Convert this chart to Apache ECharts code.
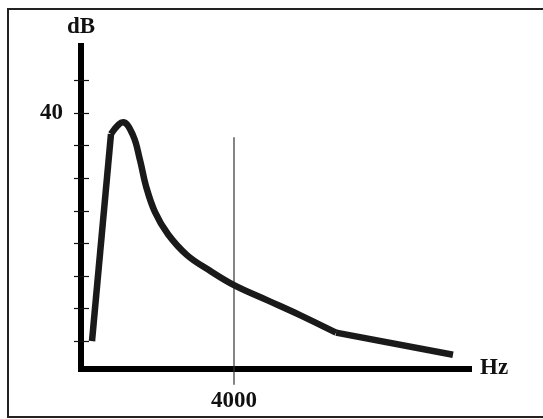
<!DOCTYPE html>
<html>
<head>
<meta charset="utf-8">
<script src="https://cdn.jsdelivr.net/npm/echarts@6/dist/echarts.min.js"></script>
<style>
  html, body { margin: 0; padding: 0; background: #fff; }
  #chart { width: 543px; height: 419px; }
</style>
</head>
<body>
<div id="chart"></div>
<script>
// Frequency response curve: level (dB) against frequency (Hz)
const freqHz = [288, 784, 1098, 1359, 1542, 1699, 1935, 2275, 2771, 3373, 4000, 4863, 5725, 6667, 9725];
const levelDb = [5.0, 36.8, 38.6, 36.6, 32.8, 28.8, 24.8, 21.4, 18.2, 15.8, 13.6, 11.3, 9.0, 6.3, 2.9];

// Straight rise, smooth decay, straight tail
const riseIdx = [0, 1];
const decayIdx = [1, 2, 3, 4, 5, 6, 7, 8, 9, 10, 11, 12, 13];
const tailIdx = [13, 14];

// Marker line at 4000 Hz
const markerHz = 4000;
const markerDb = [36.3, -1.7];

// Axis ticks and labels
const yTickValues = [5, 10, 15, 20, 25, 30, 35, 40, 45];
const yLabelValues = [40];
const xLabelValues = [4000];
const yRange = [0.8, 50.3];
const xRange = [0, 10144];

const pts = idx => idx.map(i => [freqHz[i], levelDb[i]]);

const labelFont = {
  fontFamily: '"Liberation Serif", "DejaVu Serif", serif',
  fontWeight: 'bold',
  fontSize: 23,
  color: '#111'
};

const chart = echarts.init(document.getElementById('chart'), null, { renderer: 'canvas' });

const curveStyle = { color: '#1a1a1a', width: 6.5, join: 'round' };

chart.setOption({
  animation: false,
  backgroundColor: '#fff',
  graphic: [{
    type: 'rect',
    shape: { x: 8, y: 9, width: 600, height: 408 },
    style: { fill: 'none', stroke: '#222', lineWidth: 2 },
    z: -1
  }],
  grid: { left: 81, right: 74, top: 46, bottom: 50.5 },
  xAxis: {
    type: 'value',
    min: xRange[0],
    max: xRange[1],
    name: 'Hz',
    nameLocation: 'end',
    nameGap: 11,
    nameTextStyle: Object.assign({ verticalAlign: 'middle', padding: [4, 0, 0, 0] }, labelFont),
    axisLine: { show: true, onZero: false, lineStyle: { color: '#000', width: 6, cap: 'square' } },
    axisTick: { show: false },
    splitLine: { show: false },
    axisLabel: Object.assign({ customValues: xLabelValues, margin: 21, formatter: v => String(v) }, labelFont)
  },
  yAxis: [{
    type: 'value',
    min: yRange[0],
    max: yRange[1],
    name: 'dB',
    nameLocation: 'end',
    nameGap: 7,
    nameTextStyle: Object.assign({ align: 'center' }, labelFont),
    axisLine: { show: true, onZero: false, lineStyle: { color: '#000', width: 6, cap: 'square' } },
    axisTick: { show: true, inside: true, length: 8, customValues: yTickValues, lineStyle: { color: '#111', width: 1.2 } },
    splitLine: { show: false },
    axisLabel: Object.assign({ customValues: yLabelValues, margin: 18, formatter: v => String(v) }, labelFont)
  }, {
    type: 'value',
    position: 'left',
    min: yRange[0],
    max: yRange[1],
    axisLine: { show: false },
    axisTick: { show: true, inside: false, length: 7, customValues: yTickValues, lineStyle: { color: '#111', width: 1.2 } },
    splitLine: { show: false },
    axisLabel: { show: false }
  }],
  series: [{
    type: 'line',
    data: [[markerHz, markerDb[0]], [markerHz, markerDb[1]]],
    symbol: 'none',
    clip: false,
    lineStyle: { color: '#333', width: 1.2 },
    z: 1
  }, {
    type: 'line',
    data: pts(riseIdx),
    symbol: 'none',
    lineStyle: curveStyle,
    z: 3
  }, {
    type: 'line',
    data: pts(decayIdx),
    smooth: 0.4,
    symbol: 'none',
    lineStyle: curveStyle,
    z: 3
  }, {
    type: 'line',
    data: pts(tailIdx),
    symbol: 'none',
    lineStyle: curveStyle,
    z: 3
  }]
});
</script>
</body>
</html>
